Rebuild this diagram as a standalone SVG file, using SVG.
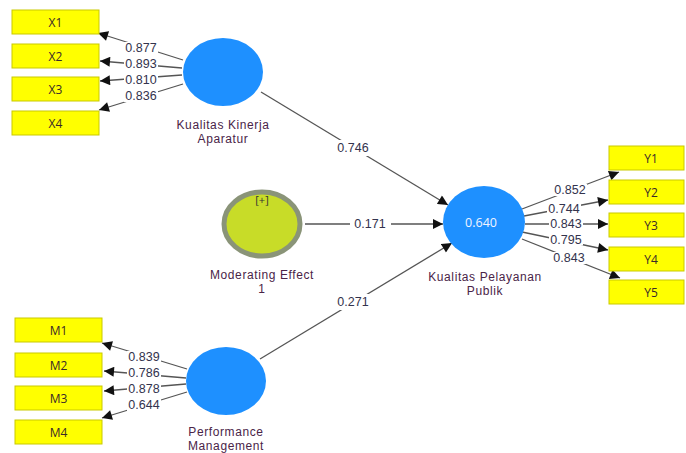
<svg xmlns="http://www.w3.org/2000/svg" width="686" height="453" viewBox="0 0 686 453">
  <defs>
    <marker id="arrow" viewBox="0 0 10 10" refX="10" refY="5" markerWidth="11" markerHeight="10" markerUnits="userSpaceOnUse" orient="auto">
      <path d="M0,0 L10,5 L0,10 z" fill="#111"/>
    </marker>
    <style>
      .ind rect { fill: #ffff00; stroke: #c9c900; stroke-width: 1; }
      .ind text { font-family: "Open Sans", "DejaVu Sans", sans-serif; font-size: 12px; fill: #3a2a2a; text-anchor: middle; dominant-baseline: central; }
      .lv { fill: #1e90ff; }
      .name { font-family: "Liberation Sans", Arial, sans-serif; font-size: 12px; letter-spacing: 0.6px; fill: #4a2448; text-anchor: middle; }
      .edge { stroke: #555; stroke-width: 1.3; fill: none; marker-end: url(#arrow); }
      .bg { fill: #fff; }
      .w { font-family: "Liberation Sans", Arial, sans-serif; font-size: 12.5px; fill: #33334d; text-anchor: middle; dominant-baseline: central; }
    </style>
  </defs>

  <!-- connectors: loadings and path coefficients -->
  <g id="connectors">
    <line class="edge" x1="183" y1="60" x2="98" y2="33"/>
    <line class="edge" x1="182" y1="68" x2="100" y2="61"/>
    <line class="edge" x1="182" y1="75" x2="100" y2="81"/>
    <line class="edge" x1="183" y1="84" x2="99" y2="110"/>

    <line class="edge" x1="187" y1="369" x2="102" y2="343"/>
    <line class="edge" x1="186" y1="378" x2="104" y2="371"/>
    <line class="edge" x1="186" y1="384" x2="104" y2="391"/>
    <line class="edge" x1="187" y1="392" x2="102" y2="418"/>

    <line class="edge" x1="522" y1="209" x2="619" y2="172"/>
    <line class="edge" x1="524" y1="216" x2="608" y2="200"/>
    <line class="edge" x1="525" y1="224" x2="608" y2="224"/>
    <line class="edge" x1="522" y1="232" x2="608" y2="250"/>
    <line class="edge" x1="522" y1="239" x2="620" y2="278"/>

    <line class="edge" x1="261" y1="92" x2="448" y2="205"/>
    <line class="edge" x1="305" y1="224" x2="443" y2="224"/>
    <line class="edge" x1="260" y1="359" x2="452" y2="243"/>

    <!-- label backings that break the lines -->
    <rect class="bg" x="124" y="42" width="34" height="12"/>
    <rect class="bg" x="124" y="58.5" width="34" height="11"/>
    <rect class="bg" x="124" y="74.5" width="34" height="11"/>
    <rect class="bg" x="124" y="90" width="34" height="12"/>

    <rect class="bg" x="127" y="351" width="34" height="12"/>
    <rect class="bg" x="127" y="367.5" width="34" height="11"/>
    <rect class="bg" x="127" y="383.5" width="34" height="11"/>
    <rect class="bg" x="127" y="399" width="34" height="12"/>

    <rect class="bg" x="553" y="184" width="34" height="12"/>
    <rect class="bg" x="547" y="203.5" width="34" height="11"/>
    <rect class="bg" x="549" y="218.5" width="34" height="11"/>
    <rect class="bg" x="549" y="234.5" width="34" height="11"/>
    <rect class="bg" x="552" y="252" width="34" height="12"/>

    <rect class="bg" x="334" y="140" width="38" height="16"/>
    <rect class="bg" x="350" y="217" width="41" height="14"/>
    <rect class="bg" x="334" y="294" width="38" height="16"/>

    <text class="w" x="141" y="48">0.877</text>
    <text class="w" x="141" y="64">0.893</text>
    <text class="w" x="141" y="80">0.810</text>
    <text class="w" x="141" y="96">0.836</text>

    <text class="w" x="144" y="357">0.839</text>
    <text class="w" x="144" y="373">0.786</text>
    <text class="w" x="144" y="389">0.878</text>
    <text class="w" x="144" y="405">0.644</text>

    <text class="w" x="570" y="190">0.852</text>
    <text class="w" x="564" y="209">0.744</text>
    <text class="w" x="566" y="224">0.843</text>
    <text class="w" x="566" y="240">0.795</text>
    <text class="w" x="569" y="258">0.843</text>

    <text class="w" x="353" y="148">0.746</text>
    <text class="w" x="370" y="224">0.171</text>
    <text class="w" x="353" y="302">0.271</text>
  </g>

  <!-- indicators -->
  <g id="X1" class="ind"><rect x="12" y="10" width="87" height="24"/><text x="55.5" y="22">X1</text></g>
  <g id="X2" class="ind"><rect x="12" y="44" width="87" height="24"/><text x="55.5" y="56">X2</text></g>
  <g id="X3" class="ind"><rect x="12" y="77" width="87" height="24"/><text x="55.5" y="89">X3</text></g>
  <g id="X4" class="ind"><rect x="12" y="111" width="87" height="24"/><text x="55.5" y="123">X4</text></g>

  <g id="M1" class="ind"><rect x="15" y="318" width="87" height="24"/><text x="58.5" y="330">M1</text></g>
  <g id="M2" class="ind"><rect x="15" y="353" width="87" height="24"/><text x="58.5" y="365">M2</text></g>
  <g id="M3" class="ind"><rect x="15" y="386" width="87" height="24"/><text x="58.5" y="398">M3</text></g>
  <g id="M4" class="ind"><rect x="15" y="420" width="87" height="24"/><text x="58.5" y="432">M4</text></g>

  <g id="Y1" class="ind"><rect x="609" y="146" width="75" height="24"/><text x="651" y="158">Y1</text></g>
  <g id="Y2" class="ind"><rect x="609" y="180" width="75" height="24"/><text x="651" y="192">Y2</text></g>
  <g id="Y3" class="ind"><rect x="609" y="213" width="75" height="24"/><text x="651" y="225">Y3</text></g>
  <g id="Y4" class="ind"><rect x="609" y="247" width="75" height="24"/><text x="651" y="259">Y4</text></g>
  <g id="Y5" class="ind"><rect x="609" y="280" width="75" height="24"/><text x="651" y="292">Y5</text></g>

  <!-- latent constructs -->
  <g id="kualitas-kinerja-aparatur">
    <ellipse class="lv" cx="223" cy="72" rx="40" ry="34"/>
    <text class="name" x="223" y="129">Kualitas Kinerja</text>
    <text class="name" x="223" y="143">Aparatur</text>
  </g>

  <g id="moderating-effect-1">
    <ellipse cx="262" cy="224" rx="38" ry="32" fill="#c8dc28" stroke="#8a9478" stroke-width="5"/>
    <text x="262" y="204" font-family="Open Sans, DejaVu Sans, sans-serif" font-size="11" fill="#333" text-anchor="middle">[+]</text>
    <text class="name" x="262" y="279">Moderating Effect</text>
    <text class="name" x="262" y="293">1</text>
  </g>

  <g id="kualitas-pelayanan-publik">
    <ellipse class="lv" cx="484" cy="222" rx="41" ry="36"/>
    <text x="481" y="222" font-family="Open Sans, DejaVu Sans, sans-serif" font-size="12.5" fill="#f0f4ff" text-anchor="middle" dominant-baseline="central">0.640</text>
    <text class="name" x="485" y="281">Kualitas Pelayanan</text>
    <text class="name" x="485" y="295">Publik</text>
  </g>

  <g id="performance-management">
    <ellipse class="lv" cx="226" cy="381" rx="40" ry="34"/>
    <text class="name" x="226" y="436">Performance</text>
    <text class="name" x="226" y="450">Management</text>
  </g>
</svg>
